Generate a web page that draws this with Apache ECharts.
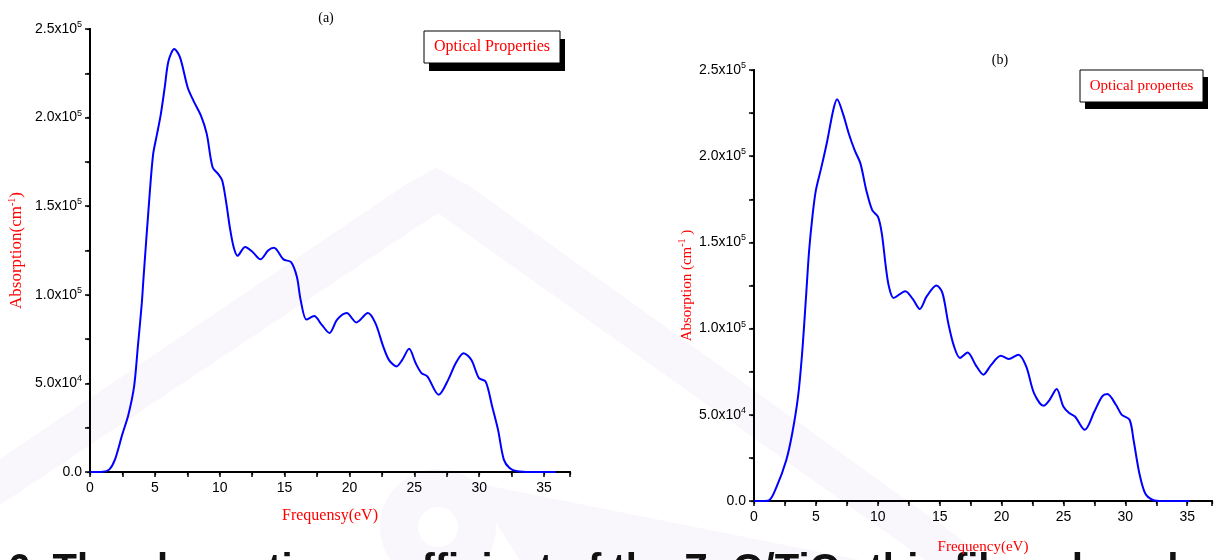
<!DOCTYPE html>
<html>
<head>
<meta charset="utf-8">
<script src="https://cdn.jsdelivr.net/npm/echarts@6/dist/echarts.min.js"></script>
<style>
html,body{margin:0;padding:0;background:#fff;}
#chart{width:1217px;height:560px;}
</style>
</head>
<body>
<div id="chart"></div>
<script>
// ---------- data ----------
const titleA = '(a)';
const titleB = '(b)';
const legendA = 'Optical Properties';
const legendB = 'Optical propertes';
const xNameA = 'Frequensy(eV)';
const xNameB = 'Frequency(eV)';
const yNameA = ['Absorption(cm', '-1', ')'];
const yNameB = ['Absorption (cm', '-1', ' )'];
const xTicks = [0, 5, 10, 15, 20, 25, 30, 35];
const yTicks = [0, 50000, 100000, 150000, 200000, 250000];
const yTickText = ['0.0', '5.0x10', '1.0x10', '1.5x10', '2.0x10', '2.5x10'];
const yTickExp = ['', '4', '5', '5', '5', '5'];
const caption = '6. The absorption coefficient of the ZnO/TiO\u2082 thin films doped with Mn and Cd';

// panel (a): frequency (eV) and absorption (cm^-1)
const freqA = [0, 0.5, 1.0, 1.5, 1.92, 2.5, 2.95, 3.4, 3.69, 3.99,
  4.13, 4.58, 4.87, 5.17, 5.46, 5.76, 6.05, 6.5, 6.94, 7.53,
  7.97, 8.56, 9.0, 9.45, 9.9, 10.19, 10.48, 10.78, 11.07, 11.37,
  11.96, 12.55, 13.14, 13.73, 14.18, 14.91, 15.5, 15.95, 16.24, 16.69,
  17.28, 17.87, 18.46, 19.05, 19.79, 20.53, 21.42, 22.0, 22.6, 23.04,
  23.63, 24.07, 24.6, 25.1, 25.55, 26.0, 26.88, 27.61, 28.2, 28.8,
  29.39, 29.98, 30.5, 31.0, 31.45, 31.9, 32.34, 32.93, 34, 35.9];
const absA = [0, 0, 100, 1500, 6950, 21500, 32000, 48300, 70900, 95000,
  110000, 155000, 179500, 190800, 202000, 217000, 232000, 238700, 234000, 217000,
  209600, 201000, 190800, 172000, 168000, 164500, 153000, 138000, 127000, 122000,
  127000, 124000, 120000, 125000, 126500, 120000, 118400, 110000, 97000, 86000,
  88000, 83000, 78400, 86000, 89700, 84400, 89700, 84000, 70900, 63300,
  59600, 63300, 69500, 61500, 55800, 54000, 43600, 52000, 61500, 67000,
  63300, 53000, 51000, 37000, 23900, 7000, 2300, 400, 0, 0];

// panel (b)
const freqB = [0, 0.6, 1.2, 1.83, 2.61, 3.09, 3.56, 3.88, 4.19, 4.45,
  4.72, 5.0, 5.45, 5.92, 6.4, 6.71, 7.18, 7.66, 8.13, 8.6,
  9.07, 9.55, 10.02, 10.33, 10.65, 10.9, 11.28, 12.22, 12.85, 13.39,
  13.96, 14.74, 15.22, 15.69, 16.16, 16.64, 17.26, 17.9, 18.53, 19.16,
  19.94, 20.57, 21.36, 21.99, 22.62, 23.4, 23.88, 24.45, 24.99, 25.46,
  25.93, 26.72, 27.5, 28.13, 28.54, 29.24, 29.71, 30.34, 30.66, 31.13,
  31.6, 32.23, 33.0, 35.2];
const absB = [0, 0, 300, 8300, 23800, 39300, 60700, 85000, 117000, 145000,
  165000, 180300, 193800, 209000, 226700, 233000, 224800, 213000, 203500, 195700,
  180300, 168700, 164800, 155000, 135800, 124400, 117800, 121700, 116900, 111400,
  118800, 125000, 120700, 103300, 89700, 83000, 86200, 79000, 73300, 79000,
  84300, 82400, 84900, 78100, 62600, 55200, 58700, 64900, 54800, 51000,
  49000, 41300, 51900, 60700, 62000, 55800, 50000, 47100, 35500, 16100,
  4500, 600, 0, 0];

// ---------- chart ----------
const SANS = "'Liberation Sans Narrow', 'Liberation Sans', Arial, sans-serif";
const SERIF = "'Liberation Serif', 'Times New Roman', serif";
const chart = echarts.init(document.getElementById('chart'), null, {renderer: 'canvas'});

function pairs(xs, ys) { return xs.map((x, i) => [x, ys[i]]); }

function yLabel(v) {
  const i = yTicks.indexOf(v);
  if (i < 0) return '';
  return yTickExp[i] ? '{m|' + yTickText[i] + '}{s|' + yTickExp[i] + '}' : '{m|' + yTickText[i] + '}';
}

const lineStyleAxis = {color: '#000', width: 2};

function xAxisMain(grid, name, gap, nameSize) {
  return {
    type: 'value', gridIndex: grid, position: 'bottom', min: 0, max: 37, interval: 5,
    name: name, nameLocation: 'middle', nameGap: gap,
    nameTextStyle: {color: '#ff0000', fontFamily: SERIF, fontSize: nameSize},
    axisLine: {show: true, lineStyle: lineStyleAxis},
    axisTick: {show: true, inside: false, length: 5, lineStyle: {color: '#000', width: 1.5}},
    minorTick: {show: true, splitNumber: 2, length: 5, lineStyle: {color: '#000', width: 1.5}},
    axisLabel: {show: true, color: '#000', fontFamily: SANS, fontSize: 14, margin: 9,
      showMaxLabel: false, formatter: v => (xTicks.indexOf(v) >= 0 ? String(v) : '')},
    splitLine: {show: false}
  };
}
function xAxisFrame(grid) {
  return {
    type: 'value', gridIndex: grid, position: 'top', min: 0, max: 37, interval: 5,
    axisLine: {show: true, lineStyle: lineStyleAxis},
    axisTick: {show: true, inside: true, length: 3, lineStyle: {color: '#000', width: 1.2}},
    minorTick: {show: true, splitNumber: 2, length: 3, lineStyle: {color: '#000', width: 1.2}},
    axisLabel: {show: false}, splitLine: {show: false}
  };
}
function yAxisMain(grid, nameParts, gap, nameSize) {
  return {
    type: 'value', gridIndex: grid, position: 'left', min: 0, max: 250000, interval: 50000,
    name: '{n|' + nameParts[0] + '}{s|' + nameParts[1] + '}{n|' + nameParts[2] + '}',
    nameLocation: 'middle', nameGap: gap, nameRotate: 90,
    nameTextStyle: {
      color: '#ff0000',
      rich: {
        n: {color: '#ff0000', fontFamily: SERIF, fontSize: nameSize, lineHeight: 20},
        s: {color: '#ff0000', fontFamily: SERIF, fontSize: 10, verticalAlign: 'top', lineHeight: 20}
      }
    },
    axisLine: {show: true, lineStyle: lineStyleAxis},
    axisTick: {show: true, inside: false, length: 5, lineStyle: {color: '#000', width: 1.5}},
    minorTick: {show: true, splitNumber: 2, length: 5, lineStyle: {color: '#000', width: 1.5}},
    axisLabel: {
      show: true, margin: 8, formatter: yLabel,
      rich: {
        m: {color: '#000', fontFamily: SANS, fontSize: 14, lineHeight: 18},
        s: {color: '#000', fontFamily: SANS, fontSize: 9, verticalAlign: 'top', lineHeight: 18}
      }
    },
    splitLine: {show: false}
  };
}
function yAxisFrame(grid) {
  return {
    type: 'value', gridIndex: grid, position: 'right', min: 0, max: 250000, interval: 50000,
    axisLine: {show: true, lineStyle: lineStyleAxis},
    axisTick: {show: true, inside: true, length: 3, lineStyle: {color: '#000', width: 1.2}},
    minorTick: {show: true, splitNumber: 2, length: 3, lineStyle: {color: '#000', width: 1.2}},
    axisLabel: {show: false}, splitLine: {show: false}
  };
}

const WM = '#f9f6fc';
function legendBox(x, y, w, h, dx, dy, text, size) {
  return [
    {type: 'rect', shape: {x: x + dx, y: y + dy, width: w, height: h}, style: {fill: '#000'}, z: 50},
    {type: 'rect', shape: {x: x, y: y, width: w, height: h}, style: {fill: '#fff', stroke: '#000', lineWidth: 1}, z: 51},
    {type: 'text', x: x + w / 2, y: y + h / 2, z: 52,
      style: {text: text, fill: '#ff0000', font: size + 'px ' + SERIF, textAlign: 'center', textVerticalAlign: 'middle'}}
  ];
}

const option = {
  backgroundColor: '#ffffff',
  animation: false,
  title: [
    {text: titleA, left: 321, top: 6, textAlign: 'center',
      textStyle: {fontFamily: SERIF, fontSize: 14, fontWeight: 'normal', color: '#000'}},
    {text: titleB, left: 995, top: 48, textAlign: 'center',
      textStyle: {fontFamily: SERIF, fontSize: 14, fontWeight: 'normal', color: '#000'}}
  ],
  grid: [
    {left: 90, top: 29, width: 480, height: 443, containLabel: false},
    {left: 754, top: 70, width: 458, height: 431, containLabel: false}
  ],
  xAxis: [xAxisMain(0, xNameA, 36, 16), xAxisFrame(0), xAxisMain(1, xNameB, 39, 15), xAxisFrame(1)],
  yAxis: [yAxisMain(0, yNameA, 63, 17), yAxisFrame(0), yAxisMain(1, yNameB, 57, 15), yAxisFrame(1)],
  series: [
    {type: 'line', xAxisIndex: 0, yAxisIndex: 0, data: pairs(freqA, absA), smooth: 0.3,
      showSymbol: false, lineStyle: {color: '#0000ff', width: 2}, z: 10},
    {type: 'line', xAxisIndex: 2, yAxisIndex: 2, data: pairs(freqB, absB), smooth: 0.3,
      showSymbol: false, lineStyle: {color: '#0000ff', width: 2}, z: 10}
  ],
  graphic: [
    // faint watermark
    {type: 'polygon', z: -10, silent: true,
      shape: {points: [[0, 459], [405, 185], [436, 168], [468, 185], [990, 560], [925, 560], [438, 213], [0, 505]]},
      style: {fill: WM}},
    {type: 'circle', z: -10, silent: true, shape: {cx: 438, cy: 527, r: 58}, style: {fill: WM}},
    {type: 'polygon', z: -10, silent: true,
      shape: {points: [[470, 482], [860, 560], [520, 560]]}, style: {fill: WM}},
    {type: 'circle', z: -9, silent: true, shape: {cx: 438, cy: 527, r: 20}, style: {fill: '#fff'}},
    ...legendBox(424, 31, 136, 32, 5, 8, legendA, 16),
    ...legendBox(1080, 70, 123, 32, 5, 7, legendB, 15),
    {type: 'text', x: 8, y: 551, z: -1, silent: true,
      style: {text: caption, fill: '#111', font: 'bold 40px ' + "'Liberation Sans', Arial, sans-serif"}}
  ]
};
chart.setOption(option);
</script>
</body>
</html>
